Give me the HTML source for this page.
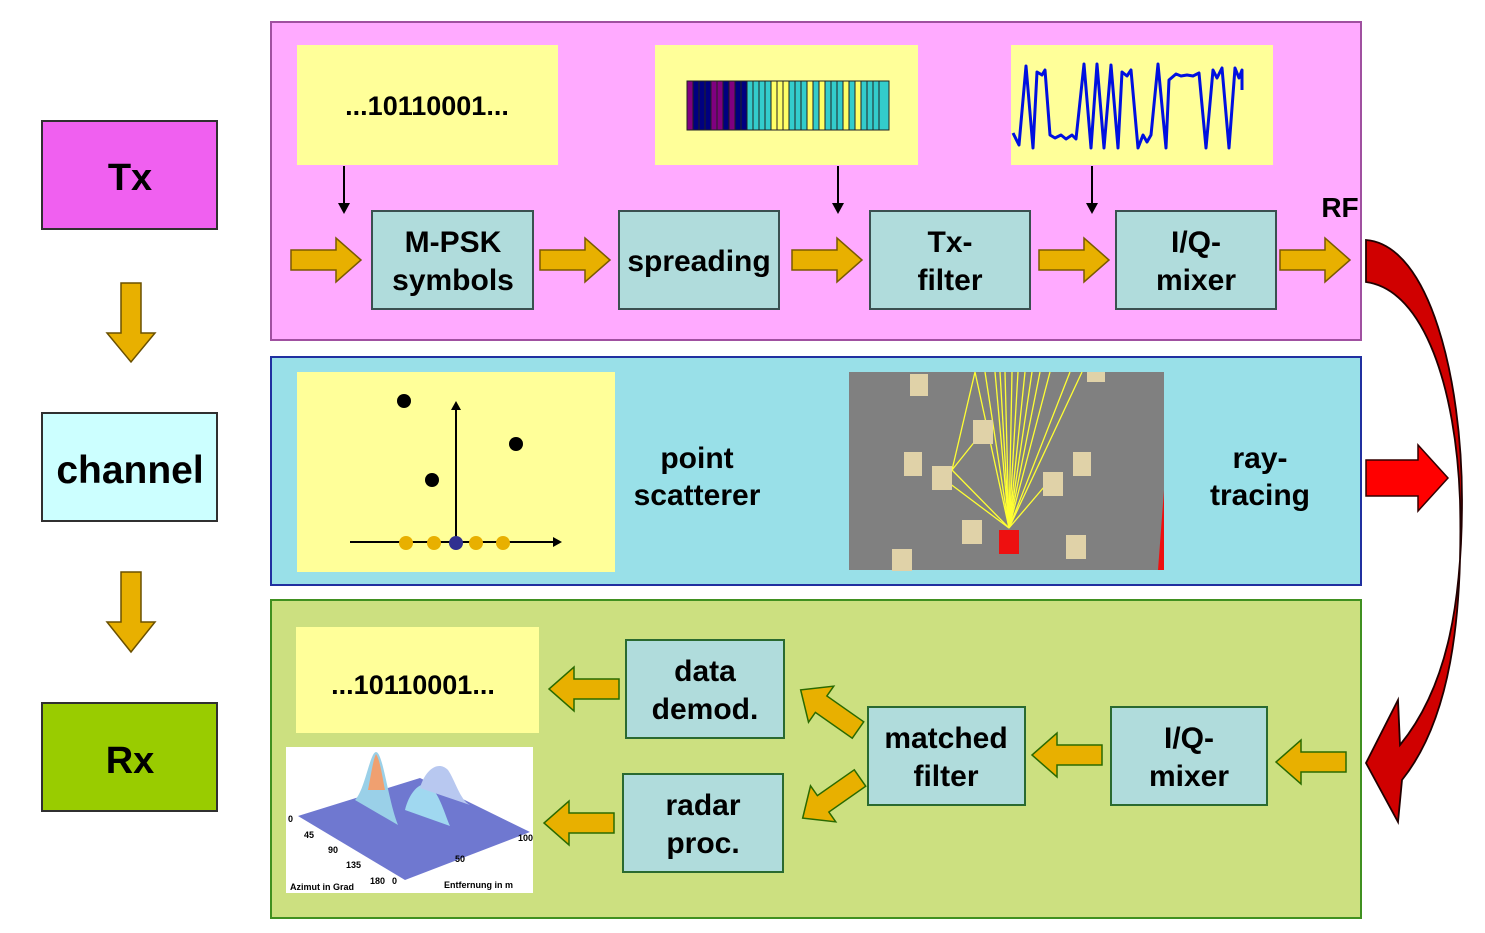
<!DOCTYPE html>
<html><head><meta charset="utf-8"><style>
html,body{margin:0;padding:0;background:#fff}
svg{display:block}
text{font-family:"Liberation Sans",Arial,sans-serif;font-weight:bold}
</style></head><body>
<svg width="1485" height="933" viewBox="0 0 1485 933" xmlns="http://www.w3.org/2000/svg">
<defs>
<g id="ar"><path d="M0,-10 L45,-10 L45,-22 L70,0 L45,22 L45,10 L0,10 Z" fill="#e8b000" stroke="#7a5a00" stroke-width="1.5"/></g>
<g id="al"><path d="M0,-10 L-45,-10 L-45,-22 L-70,0 L-45,22 L-45,10 L0,10 Z" fill="#e8b000" stroke="#2a6a00" stroke-width="1.5"/></g>
</defs>
<!-- left column -->
<rect x="42" y="121" width="175" height="108" fill="#f060f0" stroke="#303030" stroke-width="2"/>
<text x="130" y="190" font-size="38" text-anchor="middle">Tx</text>
<rect x="42" y="413" width="175" height="108" fill="#ccffff" stroke="#303030" stroke-width="2"/>
<text x="130" y="483" font-size="39" text-anchor="middle">channel</text>
<rect x="42" y="703" width="175" height="108" fill="#99cc00" stroke="#303030" stroke-width="2"/>
<text x="130" y="773" font-size="38" text-anchor="middle">Rx</text>
<path d="M121,283 L141,283 L141,333 L155,333 L131,362 L107,333 L121,333 Z" fill="#e8b000" stroke="#6a5000" stroke-width="1.5"/>
<path d="M121,572 L141,572 L141,622 L155,622 L131,652 L107,622 L121,622 Z" fill="#e8b000" stroke="#6a5000" stroke-width="1.5"/>

<!-- Tx panel -->
<rect x="271" y="22" width="1090" height="318" fill="#ffaaff" stroke="#a050a0" stroke-width="2"/>
<rect x="297" y="45" width="261" height="120" fill="#ffff99"/>
<text x="427" y="115" font-size="27" text-anchor="middle">...10110001...</text>
<rect x="655" y="45" width="263" height="120" fill="#ffff99"/>
<g stroke="#222" stroke-width="1">
<rect x="687" y="81" width="6" height="49" fill="#800080"/><rect x="693" y="81" width="6" height="49" fill="#000080"/><rect x="699" y="81" width="6" height="49" fill="#000080"/><rect x="705" y="81" width="6" height="49" fill="#000080"/><rect x="711" y="81" width="6" height="49" fill="#800080"/><rect x="717" y="81" width="6" height="49" fill="#800080"/><rect x="723" y="81" width="6" height="49" fill="#000080"/><rect x="729" y="81" width="6" height="49" fill="#800080"/><rect x="735" y="81" width="6" height="49" fill="#000080"/><rect x="741" y="81" width="6" height="49" fill="#000080"/>
<rect x="747" y="81" width="6" height="49" fill="#33cccc"/><rect x="753" y="81" width="6" height="49" fill="#33cccc"/><rect x="759" y="81" width="6" height="49" fill="#33cccc"/><rect x="765" y="81" width="6" height="49" fill="#33cccc"/><rect x="771" y="81" width="6" height="49" fill="#ffff66"/><rect x="777" y="81" width="6" height="49" fill="#ffff66"/><rect x="783" y="81" width="6" height="49" fill="#ffff66"/><rect x="789" y="81" width="6" height="49" fill="#33cccc"/><rect x="795" y="81" width="6" height="49" fill="#33cccc"/><rect x="801" y="81" width="6" height="49" fill="#33cccc"/><rect x="807" y="81" width="6" height="49" fill="#ffff66"/><rect x="813" y="81" width="6" height="49" fill="#33cccc"/><rect x="819" y="81" width="6" height="49" fill="#ffff66"/><rect x="825" y="81" width="6" height="49" fill="#33cccc"/><rect x="831" y="81" width="6" height="49" fill="#33cccc"/><rect x="837" y="81" width="6" height="49" fill="#33cccc"/><rect x="843" y="81" width="6" height="49" fill="#ffff66"/><rect x="849" y="81" width="6" height="49" fill="#33cccc"/><rect x="855" y="81" width="6" height="49" fill="#ffff66"/><rect x="861" y="81" width="6" height="49" fill="#33cccc"/><rect x="867" y="81" width="6" height="49" fill="#33cccc"/><rect x="873" y="81" width="6" height="49" fill="#33cccc"/><rect x="879" y="81" width="10" height="49" fill="#33cccc"/>
</g>
<rect x="1011" y="45" width="262" height="120" fill="#ffff99"/>
<polyline fill="none" stroke="#0010e0" stroke-width="3" stroke-linejoin="round" points="1013,133 1019,145 1026,66 1033,148 1037,72 1042,75 1045,70 1050,135 1055,138 1061,135 1066,139 1072,135 1076,139 1084,64 1091,148 1097,64 1104,148 1111,65 1118,148 1122,72 1127,76 1131,70 1138,148 1143,135 1147,142 1151,135 1158,64 1166,148 1169,80 1176,74 1181,76 1187,75 1193,76 1199,73 1206,148 1213,70 1217,78 1222,68 1229,148 1235,68 1239,78 1242,70 1242,90"/>
<g stroke="#000" stroke-width="2"><line x1="344" y1="166" x2="344" y2="208"/><line x1="838" y1="166" x2="838" y2="208"/><line x1="1092" y1="166" x2="1092" y2="208"/></g>
<g fill="#000"><path d="M338,203 L350,203 L344,214Z"/><path d="M832,203 L844,203 L838,214Z"/><path d="M1086,203 L1098,203 L1092,214Z"/></g>
<g fill="#b0dcdc" stroke="#3a5050" stroke-width="2">
<rect x="372" y="211" width="161" height="98"/><rect x="619" y="211" width="160" height="98"/><rect x="870" y="211" width="160" height="98"/><rect x="1116" y="211" width="160" height="98"/>
</g>
<g font-size="30" text-anchor="middle">
<text x="453" y="252">M-PSK</text><text x="453" y="290">symbols</text>
<text x="699" y="271">spreading</text>
<text x="950" y="252">Tx-</text><text x="950" y="290">filter</text>
<text x="1196" y="252">I/Q-</text><text x="1196" y="290">mixer</text>
<text x="1340" y="217" font-size="28">RF</text>
</g>
<use href="#ar" x="291" y="260"/><use href="#ar" x="540" y="260"/><use href="#ar" x="792" y="260"/><use href="#ar" x="1039" y="260"/><use href="#ar" x="1280" y="260"/>

<!-- channel panel -->
<rect x="271" y="357" width="1090" height="228" fill="#99e0e8" stroke="#2030a0" stroke-width="2"/>
<rect x="297" y="372" width="318" height="200" fill="#ffff99"/>
<line x1="350" y1="542" x2="553" y2="542" stroke="#000" stroke-width="2"/><path d="M553,537 L562,542 L553,547Z"/>
<line x1="456" y1="545" x2="456" y2="410" stroke="#000" stroke-width="2"/><path d="M451,410 L456,401 L461,410Z"/>
<circle cx="404" cy="401" r="7"/><circle cx="516" cy="444" r="7"/><circle cx="432" cy="480" r="7"/>
<g fill="#e8b000"><circle cx="406" cy="543" r="7"/><circle cx="434" cy="543" r="7"/><circle cx="476" cy="543" r="7"/><circle cx="503" cy="543" r="7"/></g>
<circle cx="456" cy="543" r="7" fill="#303090"/>
<text x="697" y="468" font-size="30" text-anchor="middle">point</text>
<text x="697" y="505" font-size="30" text-anchor="middle">scatterer</text>
<rect x="849" y="372" width="315" height="198" fill="#808080"/>
<g stroke="#ffff33" stroke-width="1.3">
<line x1="1009" y1="528" x2="975" y2="372"/><line x1="1009" y1="528" x2="985" y2="372"/><line x1="1009" y1="528" x2="995" y2="372"/><line x1="1009" y1="528" x2="1000" y2="372"/><line x1="1009" y1="528" x2="1005" y2="372"/><line x1="1009" y1="528" x2="1012" y2="372"/><line x1="1009" y1="528" x2="1018" y2="372"/><line x1="1009" y1="528" x2="1025" y2="372"/><line x1="1009" y1="528" x2="1032" y2="372"/><line x1="1009" y1="528" x2="1040" y2="372"/><line x1="1009" y1="528" x2="1050" y2="372"/><line x1="1009" y1="528" x2="1070" y2="372"/><line x1="1009" y1="528" x2="1082" y2="372"/><line x1="1009" y1="528" x2="952" y2="470"/><line x1="1009" y1="528" x2="945" y2="480"/><line x1="952" y1="470" x2="980" y2="435"/><line x1="952" y1="470" x2="975" y2="372"/><line x1="1009" y1="528" x2="1050" y2="480"/>
</g>
<g fill="#e0d2a8"><rect x="910" y="374" width="18" height="22"/><rect x="973" y="420" width="20" height="24"/><rect x="904" y="452" width="18" height="24"/><rect x="932" y="466" width="20" height="24"/><rect x="1043" y="472" width="20" height="24"/><rect x="1073" y="452" width="18" height="24"/><rect x="962" y="520" width="20" height="24"/><rect x="1066" y="535" width="20" height="24"/><rect x="892" y="549" width="20" height="22"/><rect x="1087" y="372" width="18" height="10"/></g>
<rect x="999" y="530" width="20" height="24" fill="#ee1010"/>
<path d="M1164,490 L1164,570 L1158,570 Z" fill="#ee1010"/>
<text x="1260" y="468" font-size="30" text-anchor="middle">ray-</text>
<text x="1260" y="505" font-size="30" text-anchor="middle">tracing</text>

<!-- Rx panel -->
<rect x="271" y="600" width="1090" height="318" fill="#cce080" stroke="#409020" stroke-width="2"/>
<rect x="296" y="627" width="243" height="106" fill="#ffff99"/>
<text x="413" y="694" font-size="27" text-anchor="middle">...10110001...</text>
<rect x="286" y="747" width="247" height="146" fill="#fff"/>
<path d="M298,816 L420,778 L530,832 L405,880 Z" fill="#6f78d0"/>
<path d="M355,800 C365,790 370,752 376,752 C383,752 388,800 398,825 Z" fill="#9ad0e8"/>
<path d="M376,754 C380,760 382,775 385,790 L368,790 C371,775 373,760 376,754Z" fill="#f0a070"/>
<path d="M405,810 C410,790 422,780 430,786 C440,795 445,815 450,826 Z" fill="#a0d8f0"/>
<path d="M420,788 C425,770 438,760 448,770 C455,780 460,800 470,805 Z" fill="#b8c8f0"/>
<g font-size="9" fill="#000">
<text x="288" y="822" font-weight="normal">0</text><text x="304" y="838" font-weight="normal">45</text><text x="328" y="853" font-weight="normal">90</text><text x="346" y="868" font-weight="normal">135</text><text x="370" y="884" font-weight="normal">180</text><text x="392" y="884" font-weight="normal">0</text><text x="455" y="862" font-weight="normal">50</text><text x="518" y="841" font-weight="normal">100</text>
<text x="290" y="890" font-weight="normal">Azimut in Grad</text><text x="444" y="888" font-weight="normal">Entfernung in m</text>
</g>
<g fill="#b0dcdc" stroke="#2a6a30" stroke-width="2">
<rect x="626" y="640" width="158" height="98"/><rect x="623" y="774" width="160" height="98"/><rect x="868" y="707" width="157" height="98"/><rect x="1111" y="707" width="156" height="98"/>
</g>
<g font-size="30" text-anchor="middle">
<text x="705" y="681">data</text><text x="705" y="719">demod.</text>
<text x="703" y="815">radar</text><text x="703" y="853">proc.</text>
<text x="946" y="748">matched</text><text x="946" y="786">filter</text>
<text x="1189" y="748">I/Q-</text><text x="1189" y="786">mixer</text>
</g>
<use href="#al" x="619" y="689"/><use href="#al" x="614" y="823"/><use href="#al" x="1102" y="755"/><use href="#al" x="1346" y="762"/>
<use href="#al" transform="translate(858,730) rotate(35)"/>
<use href="#al" transform="translate(860,778) rotate(-35)"/>

<!-- red arrows -->
<path d="M1366,460 L1418,460 L1418,445 L1448,478 L1418,511 L1418,496 L1366,496 Z" fill="#ff0000" stroke="#300" stroke-width="1.5"/>
<path d="M1366,240 C1430,245 1462,380 1462,500 C1462,610 1445,690 1400,745 L1398,700 L1366,763 L1398,822 L1402,780 C1450,720 1463,620 1460,500 C1456,390 1425,290 1366,282 Z" fill="#d00000" stroke="#200" stroke-width="1.8"/>
</svg>
</body></html>
